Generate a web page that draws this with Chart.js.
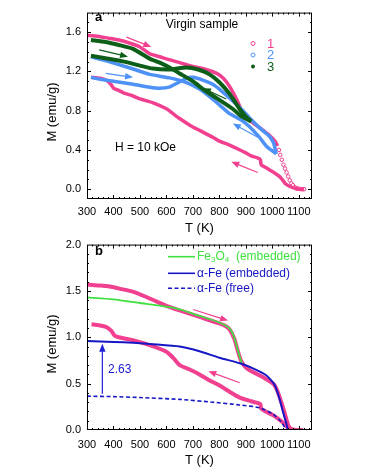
<!DOCTYPE html>
<html>
<head>
<meta charset="utf-8">
<script src="https://cdn.jsdelivr.net/npm/chart.js@4.4.1/dist/chart.umd.min.js"></script>
<style>
  body { margin: 0; background: #fff; }
  #wrap { position: relative; width: 365px; height: 473px; }
  canvas { position: absolute; left: 0; }
</style>
</head>
<body>
<div id="wrap">
  <canvas id="ca" width="365" height="238" style="top:0;width:365px;height:238px"></canvas>
  <canvas id="cb" width="365" height="241" style="top:232px;width:365px;height:241px"></canvas>
</div>
<script>
// ---- tick labels ----
const xTicks = [300, 400, 500, 600, 700, 800, 900, 1000, 1100];
const yTicksA = [0, 0.4, 0.8, 1.2, 1.6];
const yTicksB = [0, 0.5, 1.0, 1.5, 2.0];

// ---- panel a : virgin sample, cycles 1-3 [T (K), M (emu/g)] ----
const s1Heat = [[300,1.57],[340,1.56],[380,1.54],[420,1.52],[460,1.49],[500,1.45],[537,1.38],[575,1.35],[610,1.32],[650,1.29],[700,1.25],[750,1.22],[790,1.18],[815,1.13],[838,1.05],[855,0.97],[870,0.89],[885,0.79],[900,0.73],[926,0.68],[960,0.61],[989,0.55],[1010,0.49],[1020,0.44]];
const s1Tail = [[1025,0.40],[1030,0.35],[1036,0.30],[1042,0.25],[1048,0.21],[1054,0.17],[1060,0.13],[1066,0.09],[1072,0.06],[1078,0.04],[1085,0.02],[1092,0.01],[1100,0.005],[1108,0.0],[1115,0.0],[1120,0.0]];
const s1Cool = [[1120,0.0],[1100,0.0],[1085,0.01],[1065,0.03],[1052,0.05],[1040,0.09],[1027,0.13],[1000,0.18],[975,0.22],[958,0.25],[955,0.30],[944,0.32],[920,0.34],[900,0.37],[870,0.41],[838,0.45],[800,0.49],[775,0.53],[725,0.60],[690,0.65],[650,0.72],[620,0.78],[600,0.82],[550,0.88],[500,0.92],[474,0.95],[440,0.98],[417,1.01],[400,1.03],[390,1.07],[373,1.11],[350,1.13],[315,1.14]];
const s2Heat = [[315,1.14],[350,1.12],[400,1.10],[474,1.07],[537,1.04],[575,1.03],[610,1.04],[640,1.08],[675,1.13],[700,1.14],[740,1.11],[775,1.07],[800,1.02],[838,0.93],[870,0.85],[900,0.77],[920,0.71],[950,0.63],[989,0.54],[1005,0.47],[1015,0.36]];
const s2Cool = [[1015,0.36],[995,0.40],[977,0.44],[951,0.53],[913,0.64],[880,0.71],[839,0.77],[800,0.86],[760,0.95],[725,1.02],[690,1.07],[662,1.10],[612,1.135],[537,1.17],[480,1.22],[420,1.27],[370,1.31],[315,1.35]];
const s3Heat = [[315,1.36],[380,1.33],[440,1.30],[500,1.26],[549,1.23],[612,1.22],[675,1.24],[720,1.22],[763,1.17],[800,1.09],[839,0.97],[876,0.82],[900,0.74],[920,0.69]];
const s3Cool = [[920,0.69],[880,0.75],[850,0.82],[800,0.91],[760,0.98],[738,1.02],[700,1.10],[650,1.18],[612,1.24],[575,1.29],[537,1.33],[474,1.43],[420,1.47],[370,1.50],[315,1.52]];

// ---- panel b : measured curve and fits ----
const bHeat = [[300,1.57],[340,1.56],[380,1.55],[430,1.52],[475,1.49],[520,1.44],[560,1.39],[600,1.34],[650,1.29],[725,1.22],[800,1.15],[825,1.12],[840,1.08],[857,0.98],[870,0.85],[883,0.74],[902,0.67],[930,0.62],[965,0.57],[1003,0.50],[1015,0.45],[1027,0.36],[1046,0.19],[1059,0.06],[1071,0.01],[1090,0.0],[1116,0.0]];
const bCool = [[1116,0.0],[1090,0.0],[1065,0.01],[1040,0.08],[1003,0.16],[975,0.20],[958,0.23],[955,0.28],[920,0.31],[877,0.35],[840,0.41],[801,0.48],[760,0.54],[725,0.60],[690,0.65],[650,0.70],[625,0.78],[600,0.845],[537,0.915],[473,0.97],[420,1.00],[404,1.02],[392,1.07],[373,1.11],[345,1.13],[317,1.14]];
const fe3o4Emb = [[300,1.43],[400,1.41],[500,1.37],[600,1.33],[650,1.30],[725,1.23],[800,1.16],[840,1.09],[857,0.99],[870,0.86],[880,0.76],[885,0.72]];
const feEmb = [[300,0.96],[400,0.95],[475,0.94],[550,0.925],[650,0.90],[725,0.85],[800,0.78],[877,0.72],[927,0.665],[977,0.59],[1008,0.49],[1027,0.34],[1040,0.20],[1053,0.07],[1059,0.0]];
const feFree = [[300,0.365],[400,0.36],[500,0.35],[650,0.33],[775,0.30],[877,0.27],[953,0.24],[1003,0.17],[1033,0.09],[1053,0.0]];

const FONT = '"Liberation Sans", Arial, Helvetica, sans-serif';
const PINK = '#f0408f', BLUE2 = '#4f92f7', DGREEN = '#0d5e18', LGREEN = '#3fe03f', NAVY = '#1616c4';

// arrows in data units: [T0, M0, T1, M1, colour], head at (T1, M1)
const arrowsA = [
  [449, 1.55, 543, 1.45, PINK],
  [346, 1.42, 455, 1.35, DGREEN],
  [371, 1.18, 474, 1.14, BLUE2],
  [826, 0.92, 738, 1.03, DGREEN],
  [945, 0.53, 851, 0.67, BLUE2],
  [945, 0.17, 845, 0.28, PINK],
];
const arrowsB = [
  [701, 1.30, 833, 1.18, PINK],
  [877, 0.51, 758, 0.634, PINK],
  [358, 0.39, 358, 0.93, '#2020d8'],
];

Chart.defaults.font.family = FONT;
Chart.defaults.color = '#000';
Chart.defaults.animation = false;

const pts = arr => arr.map(([x, y]) => ({ x, y }));

function curve(data, color, width, extra) {
  return Object.assign({
    data: pts(data), showLine: true, borderColor: color, borderWidth: width,
    pointRadius: 0, tension: 0.2, fill: false,
  }, extra || {});
}

function arrow(ctx, x0, y0, x1, y1, color) {
  const ang = Math.atan2(y1 - y0, x1 - x0), L = 8, W = 3.2;
  const c = Math.cos(ang), s = Math.sin(ang);
  ctx.strokeStyle = color;
  ctx.fillStyle = color;
  ctx.lineWidth = 1.2;
  ctx.beginPath();
  ctx.moveTo(x0, y0);
  ctx.lineTo(x1 - L * 0.7 * c, y1 - L * 0.7 * s);
  ctx.stroke();
  ctx.beginPath();
  ctx.moveTo(x1, y1);
  ctx.lineTo(x1 - L * c + W * s, y1 - L * s - W * c);
  ctx.lineTo(x1 - L * c - W * s, y1 - L * s + W * c);
  ctx.closePath();
  ctx.fill();
}

// box with inward ticks on all four sides
const frame = {
  id: 'frame',
  afterDraw(chart, args, o) {
    const { ctx, chartArea: a, scales: { x, y } } = chart;
    ctx.save();
    ctx.strokeStyle = '#000';
    ctx.lineWidth = 1;
    ctx.strokeRect(a.left + 0.5, a.top + 0.5, a.right - a.left - 1, a.bottom - a.top - 1);
    const seg = (x0, y0, x1, y1) => { ctx.beginPath(); ctx.moveTo(x0, y0); ctx.lineTo(x1, y1); ctx.stroke(); };
    const isMajor = (v, list) => list.some(m => Math.abs(m - v) < 1e-6);
    const steps = (min, max, step) => {
      const out = [];
      for (let i = Math.ceil(min / step - 1e-6); i * step <= max + 1e-9; i++) out.push(+(i * step).toFixed(6));
      return out;
    };
    steps(x.min, x.max, o.xMinor).forEach(v => {
      if (v <= x.min || v >= x.max) return;
      const len = isMajor(v, o.xMajor) ? 4 : 2;
      const p = Math.round(x.getPixelForValue(v)) + 0.5;
      seg(p, a.bottom, p, a.bottom - len);
      seg(p, a.top, p, a.top + len);
    });
    steps(y.min, y.max, o.yMinor).forEach(v => {
      if (v <= y.min + 1e-6 || v >= y.max - 1e-6) return;
      const len = isMajor(v, o.yMajor) ? 4 : 2;
      const p = Math.round(y.getPixelForValue(v)) + 0.5;
      seg(a.left, p, a.left + len, p);
      seg(a.right, p, a.right - len, p);
    });
    ctx.restore();
  }
};

function axisTitles(ctx, chart, xTitleY) {
  const a = chart.chartArea;
  ctx.fillStyle = '#000';
  ctx.font = '13px ' + FONT;
  ctx.textAlign = 'center';
  ctx.textBaseline = 'middle';
  ctx.fillText('T (K)', (a.left + a.right) / 2, xTitleY);
  ctx.save();
  ctx.translate(52, 112);
  ctx.rotate(-Math.PI / 2);
  ctx.fillText('M (emu/g)', 0, 0);
  ctx.restore();
}

const decorA = {
  id: 'decorA',
  afterDraw(chart) {
    const { ctx, scales: { x, y } } = chart;
    ctx.save();
    arrowsA.forEach(([t0, m0, t1, m1, c]) =>
      arrow(ctx, x.getPixelForValue(t0), y.getPixelForValue(m0), x.getPixelForValue(t1), y.getPixelForValue(m1), c));
    ctx.textBaseline = 'middle';
    ctx.fillStyle = '#000';
    ctx.font = 'bold 13px ' + FONT;
    ctx.textAlign = 'left';
    ctx.fillText('a', 95, 17);
    ctx.font = '12px ' + FONT;
    ctx.textAlign = 'center';
    ctx.fillText('Virgin sample', 202, 25);
    ctx.textAlign = 'left';
    ctx.fillText('H = 10 kOe', 115, 148);
    // legend
    const rows = [['1', PINK, false, 43.5], ['2', BLUE2, false, 55], ['3', DGREEN, true, 66.5]];
    ctx.font = '13px ' + FONT;
    rows.forEach(([t, c, filled, yy]) => {
      ctx.beginPath();
      ctx.arc(253, yy, 2, 0, Math.PI * 2);
      ctx.lineWidth = 1;
      if (filled) { ctx.fillStyle = c; ctx.fill(); }
      else { ctx.strokeStyle = c; ctx.stroke(); }
      ctx.fillStyle = c;
      ctx.fillText(t, 267, yy + 0.5);
    });
    axisTitles(ctx, chart, 228);
    ctx.restore();
  }
};

const decorB = {
  id: 'decorB',
  afterDraw(chart) {
    const { ctx, scales: { x, y } } = chart;
    ctx.save();
    arrowsB.forEach(([t0, m0, t1, m1, c]) =>
      arrow(ctx, x.getPixelForValue(t0), y.getPixelForValue(m0), x.getPixelForValue(t1), y.getPixelForValue(m1), c));
    ctx.textBaseline = 'middle';
    ctx.fillStyle = '#000';
    ctx.font = 'bold 13px ' + FONT;
    ctx.textAlign = 'left';
    ctx.fillText('b', 95, 19);
    ctx.fillStyle = '#2020d8';
    ctx.font = '12px ' + FONT;
    ctx.fillText('2.63', 108, 138);
    // legend
    const ly = [24.7, 41.3, 56.3];
    const seg = (yy, c, dash) => {
      ctx.strokeStyle = c; ctx.lineWidth = 1.6; ctx.setLineDash(dash);
      ctx.beginPath(); ctx.moveTo(168, yy); ctx.lineTo(195, yy); ctx.stroke();
      ctx.setLineDash([]);
    };
    seg(ly[0], LGREEN, []);
    seg(ly[1], NAVY, []);
    seg(ly[2], NAVY, [4, 2.5]);
    ctx.font = '12px ' + FONT;
    ctx.fillStyle = LGREEN;
    let px = 197;
    const put = (t, dy, f) => { ctx.font = f; ctx.fillText(t, px, ly[0] + dy); px += ctx.measureText(t).width; };
    put('Fe', 0, '12px ' + FONT);
    put('3', 3, '8px ' + FONT);
    put('O', 0, '12px ' + FONT);
    put('4', 3, '8px ' + FONT);
    put('  (embedded)', 0, '12px ' + FONT);
    ctx.font = '12px ' + FONT;
    ctx.fillStyle = NAVY;
    ctx.fillText('\u03b1-Fe (embedded)', 197, ly[1]);
    ctx.fillText('\u03b1-Fe (free)', 197, ly[2]);
    axisTitles(ctx, chart, 228);
    ctx.restore();
  }
};

function scalesFor(yMin, yMax, yTicks, xHeight, xPad) {
  return {
    x: {
      type: 'linear', min: 300, max: 1150,
      grid: { display: false, drawTicks: false }, border: { display: false },
      ticks: { padding: xPad, autoSkip: false, maxRotation: 0, font: { size: 11 }, color: '#000', callback: v => String(v) },
      afterBuildTicks: s => { s.ticks = xTicks.map(v => ({ value: v })); },
      afterFit: s => { s.height = xHeight; },
    },
    y: {
      type: 'linear', min: yMin, max: yMax,
      grid: { display: false, drawTicks: false }, border: { display: false },
      ticks: { padding: 6, font: { size: 11 }, color: '#000', callback: v => Number(v).toFixed(1) },
      afterBuildTicks: s => { s.ticks = yTicks.map(v => ({ value: v })); },
      afterFit: s => { s.width = 87; },
    },
  };
}

new Chart(document.getElementById('ca'), {
  type: 'scatter',
  data: {
    datasets: [
      curve(s3Heat, DGREEN, 4, { order: 0 }),
      curve(s3Cool, DGREEN, 4, { order: 0 }),
      curve(s2Heat, BLUE2, 3.5, { order: 1 }),
      curve(s2Cool, BLUE2, 3.5, { order: 1 }),
      curve(s1Heat, PINK, 3.5, { order: 2 }),
      curve(s1Cool, PINK, 3.5, { order: 2 }),
      { data: pts(s1Tail), showLine: false, pointRadius: 1.8, pointBorderWidth: 1,
        pointBorderColor: PINK, pointBackgroundColor: '#fff', order: 2 },
    ],
  },
  options: {
    responsive: false,
    layout: { padding: { left: 0, top: 8, right: 53, bottom: 0 } },
    scales: scalesFor(-0.1, 1.8, yTicksA, 39, 6),
    plugins: {
      legend: { display: false }, tooltip: { enabled: false },
      frame: { xMinor: 20, yMinor: 0.1, xMajor: xTicks, yMajor: yTicksA },
    },
  },
  plugins: [frame, decorA],
});

new Chart(document.getElementById('cb'), {
  type: 'scatter',
  data: {
    datasets: [
      curve(feEmb, NAVY, 2, { order: 0 }),
      curve(fe3o4Emb, LGREEN, 1.8, { order: 1 }),
      curve(feFree, NAVY, 1.6, { order: 2, borderDash: [4, 2.5] }),
      curve(bHeat, PINK, 4, { order: 3 }),
      curve(bCool, PINK, 4, { order: 3 }),
    ],
  },
  options: {
    responsive: false,
    layout: { padding: { left: 0, top: 8.7, right: 53, bottom: 0 } },
    scales: scalesFor(0, 2.0, yTicksB, 43, 8),
    plugins: {
      legend: { display: false }, tooltip: { enabled: false },
      frame: { xMinor: 20, yMinor: 0.1, xMajor: xTicks, yMajor: yTicksB },
    },
  },
  plugins: [frame, decorB],
});
</script>
</body>
</html>
